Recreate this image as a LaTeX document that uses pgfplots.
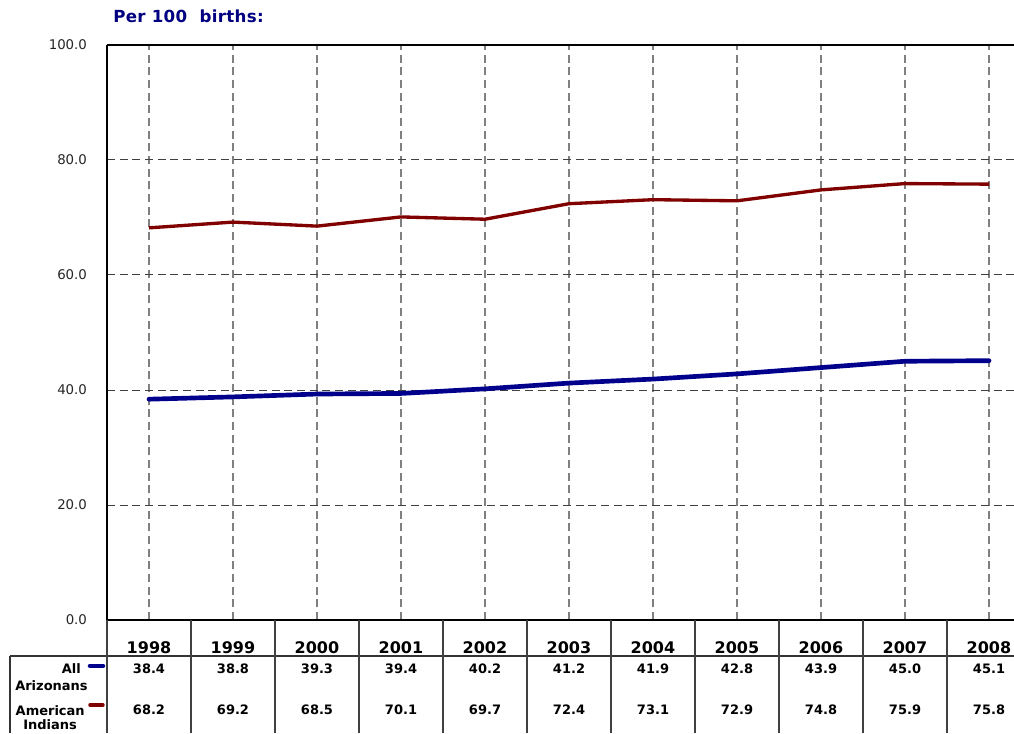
\documentclass[border=0pt]{standalone}
\usepackage{fontspec}
\setmainfont{DejaVu Sans}
\usepackage{pgfplots}
\usepackage{pgfplotstable}
\pgfplotsset{compat=1.18}

\definecolor{azblue}{RGB}{0,0,140}
\definecolor{aired}{RGB}{128,0,0}
\definecolor{titleblue}{RGB}{0,0,128}

% births per 100, by year
\pgfplotstableread{
year az   ai
1998 38.4 68.2
1999 38.8 69.2
2000 39.3 68.5
2001 39.4 70.1
2002 40.2 69.7
2003 41.2 72.4
2004 41.9 73.1
2005 42.8 72.9
2006 43.9 74.8
2007 45.0 75.9
2008 45.1 75.8
}\births

\begin{document}
\begin{tikzpicture}
\useasboundingbox (0,0) rectangle (760.5pt,549.75pt);

% the plot area is cut off at the right edge, as in the original
\begin{axis}[
    at={(80.25pt,84.75pt)}, anchor=south west,
    scale only axis, width=680.25pt, height=431.25pt,
    xmin=1997.5, xmax=2008.2976, ymin=0, ymax=100,
    axis x line*=bottom, axis y line*=left,
    xtick={1998,...,2008}, ytick={0,20,...,100},
    major tick length=0pt,
    xmajorgrids, ymajorgrids,
    x grid style={black!50, line width=0.9pt, dash pattern=on 6pt off 3.5pt},
    y grid style={black!75, line width=0.75pt, dash pattern=on 6pt off 3.5pt},
    axis line style={black, line width=1.1pt, -},
    /pgf/number format/assume math mode=true,
    xticklabel style={font=\bfseries\fontsize{12}{14}\selectfont, anchor=base, yshift=-24.75pt,
        /pgf/number format/1000 sep={}},
    yticklabel style={font=\fontsize{10}{12}\selectfont, text=black!85, xshift=-11.5pt,
        /pgf/number format/.cd, fixed, fixed zerofill, precision=1},
    clip=false,
]
\addplot[aired, line width=2.5pt] table[x=year, y=ai] {\births};
\addplot[azblue, line width=3.5pt, line cap=round] table[x=year, y=az] {\births};

% value rows of the table under the chart
\addplot[draw=none, mark=none, point meta=explicit,
    nodes near coords={\pgfmathprintnumber[fixed,fixed zerofill,precision=1]{\pgfplotspointmeta}},
    nodes near coords style={anchor=base, inner sep=0pt, font=\bfseries\fontsize{9.75}{11}\selectfont}]
    table[x=year, y expr=-9.22, meta=az] {\births};
\addplot[draw=none, mark=none, point meta=explicit,
    nodes near coords={\pgfmathprintnumber[fixed,fixed zerofill,precision=1]{\pgfplotspointmeta}},
    nodes near coords style={anchor=base, inner sep=0pt, font=\bfseries\fontsize{9.75}{11}\selectfont}]
    table[x=year, y expr=-16.52, meta=ai] {\births};
\end{axis}

% pixel coordinates for the rest
\begin{scope}[x=0.75pt, y=-0.75pt, yshift=549.75pt]
  \draw[black, line width=1.1pt] (107,45) -- (1014,45);
  \node[anchor=base west, inner sep=0pt, text=titleblue,
        font=\bfseries\fontsize{12.5}{14}\selectfont] at (113,23) {\addfontfeatures{LetterSpace=2}Per 100\ \ births:};
  % table rules
  \draw[black!80, line width=1.3pt] (10,656) -- (1014,656);
  \draw[black!80, line width=1pt] (10,656) -- (10,733);
  \foreach \k in {0,...,10} {
    \draw[black!75, line width=0.8pt] ({107+84*\k},620) -- ({107+84*\k},733);
  }
  % row labels with legend swatches
  \begin{scope}[font=\bfseries\fontsize{9.75}{11}\selectfont]
    \node[anchor=base east, inner sep=0pt] at (81,673) {All};
    \node[anchor=base west, inner sep=0pt] at (15,690) {Arizonans};
    \node[anchor=base east, inner sep=0pt] at (85,715) {American};
    \node[anchor=base west, inner sep=0pt] at (23,729) {Indians};
  \end{scope}
  \draw[azblue, line width=3.4pt, line cap=round] (90,666) -- (103,666);
  \draw[aired, line width=2.6pt, line cap=round] (90,705) -- (103,705);
\end{scope}
\end{tikzpicture}
\end{document}
